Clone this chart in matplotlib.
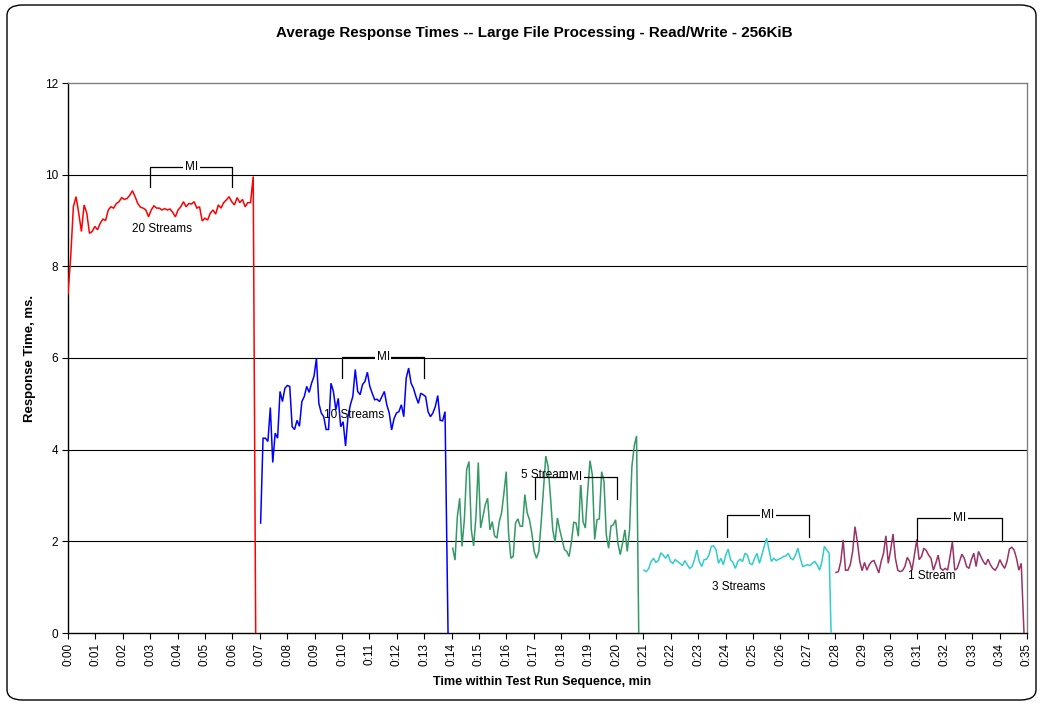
import numpy as np
import matplotlib
matplotlib.use("Agg")
import matplotlib.pyplot as plt
from matplotlib.patches import FancyBboxPatch

plt.rcParams['font.family'] = ['Liberation Sans', 'DejaVu Sans']

# ---------------- data ----------------
title = "Average Response Times -- Large File Processing - Read/Write - 256KiB"
xlabel = "Time within Test Run Sequence, min"
ylabel = "Response Time, ms."
xtick_labels = ["0:%02d" % m for m in range(36)]
yticks = [0, 2, 4, 6, 8, 10, 12]

red_start, red_end, red_drop = 0.0, 6.76, 6.85
red_vals = [7.4, 8.2, 9.30, 9.52, 9.16, 8.76, 9.34, 9.16, 8.72, 8.76, 8.87, 8.80, 8.94,
            9.03, 9.00, 9.23, 9.30, 9.27, 9.37, 9.41, 9.50, 9.46, 9.48, 9.55, 9.65, 9.52,
            9.37, 9.29, 9.27, 9.23, 9.08, 9.23, 9.32, 9.27, 9.27, 9.23, 9.26, 9.23, 9.25,
            9.18, 9.08, 9.23, 9.30, 9.41, 9.30, 9.37, 9.36, 9.41, 9.27, 9.30, 8.99, 9.05,
            9.01, 9.16, 9.23, 9.14, 9.34, 9.27, 9.39, 9.45, 9.52, 9.41, 9.34, 9.50, 9.39,
            9.46, 9.30, 9.39, 9.39, 9.96]

blue_start, blue_end, blue_drop = 7.03, 13.76, 13.87
blue_vals = [2.4, 4.25, 4.25, 4.18, 4.92, 3.72, 4.36, 4.25, 5.27, 5.05, 5.34, 5.40, 5.38,
             4.50, 4.44, 4.64, 4.51, 5.05, 5.16, 5.38, 5.25, 5.45, 5.60, 5.99, 5.01, 4.80,
             4.72, 4.44, 4.44, 5.45, 5.27, 4.87, 5.12, 4.50, 4.61, 4.08, 4.72, 4.98, 5.16,
             5.75, 5.27, 5.20, 5.42, 5.49, 5.69, 5.38, 5.23, 5.09, 5.10, 5.05, 5.16, 5.27,
             4.98, 4.80, 4.43, 4.68, 4.80, 4.83, 4.98, 4.72, 5.56, 5.78, 5.45, 5.34, 5.16,
             5.01, 5.23, 5.20, 5.16, 4.83, 4.72, 4.80, 4.94, 5.18, 4.64, 4.63, 4.83]

green_start, green_end, green_drop = 14.04, 20.75, 20.83
green_vals = [1.85, 1.59, 2.54, 2.94, 1.89, 2.47, 3.57, 3.74, 2.25, 1.90, 2.54, 3.72, 2.29,
              2.54, 2.80, 2.94, 2.25, 2.43, 2.12, 2.07, 2.43, 2.62, 3.05, 3.52, 2.18, 1.63,
              1.67, 2.40, 2.49, 2.33, 2.33, 3.02, 2.62, 2.47, 2.18, 1.78, 1.63, 1.78, 2.40,
              3.13, 3.86, 3.63, 2.98, 2.25, 1.98, 2.51, 2.25, 2.04, 1.82, 1.78, 1.67, 1.98,
              2.42, 2.40, 2.11, 3.31, 2.43, 2.29, 3.09, 3.76, 3.45, 2.04, 2.47, 2.49, 3.52,
              3.31, 2.14, 1.85, 2.33, 2.36, 2.47, 1.96, 1.71, 1.96, 2.25, 1.78, 2.25, 3.63,
              4.08, 4.30]

cyan_start, cyan_end, cyan_drop = 21.02, 27.78, 27.85
cyan_vals = [1.37, 1.34, 1.41, 1.56, 1.63, 1.54, 1.58, 1.75, 1.70, 1.63, 1.72, 1.56, 1.52,
             1.60, 1.56, 1.52, 1.47, 1.58, 1.49, 1.41, 1.45, 1.60, 1.81, 1.56, 1.45, 1.60,
             1.61, 1.70, 1.89, 1.90, 1.81, 1.52, 1.63, 1.49, 1.70, 1.83, 1.60, 1.54, 1.41,
             1.56, 1.61, 1.56, 1.74, 1.70, 1.52, 1.49, 1.63, 1.74, 1.52, 1.70, 1.89, 2.07,
             1.81, 1.56, 1.63, 1.58, 1.61, 1.63, 1.67, 1.68, 1.74, 1.63, 1.60, 1.70, 1.85,
             1.63, 1.45, 1.47, 1.49, 1.47, 1.52, 1.56, 1.49, 1.37, 1.56, 1.89, 1.81, 1.74]

purple_start, purple_end, purple_drop = 28.03, 34.79, 34.89
purple_vals = [1.32, 1.34, 1.56, 2.03, 1.37, 1.37, 1.49, 1.78, 2.32, 1.99, 1.56, 1.36, 1.54,
               1.37, 1.49, 1.56, 1.58, 1.45, 1.31, 1.56, 1.74, 2.12, 1.52, 1.81, 2.16, 1.63,
               1.37, 1.34, 1.36, 1.45, 1.65, 1.56, 1.37, 1.70, 2.04, 1.60, 1.67, 1.85, 1.80,
               1.70, 1.63, 1.37, 1.52, 1.70, 1.41, 1.37, 1.41, 1.37, 1.67, 1.99, 1.37, 1.41,
               1.56, 1.72, 1.63, 1.45, 1.41, 1.60, 1.74, 1.45, 1.78, 1.67, 1.56, 1.49, 1.61,
               1.49, 1.41, 1.37, 1.45, 1.60, 1.49, 1.41, 1.56, 1.83, 1.87, 1.81, 1.63, 1.37,
               1.52]

# series: (start, end, drop time, values, colour, label, label position)
series = [
    (red_start, red_end, red_drop, red_vals, "#FF0000", "20 Streams", (3.42, 8.81)),
    (blue_start, blue_end, blue_drop, blue_vals, "#0000FF", "10 Streams", (10.44, 4.76)),
    (green_start, green_end, green_drop, green_vals, "#339966", "5 Streams", (17.5, 3.45)),
    (cyan_start, cyan_end, cyan_drop, cyan_vals, "#33CCCC", "3 Streams", (24.46, 1.0)),
    (purple_start, purple_end, purple_drop, purple_vals, "#993366", "1 Stream", (31.52, 1.24)),
]

# MI brackets: (x0, x1, top, bottom)
mi_brackets = [
    (3.0, 6.0, 10.17, 9.73),
    (10.0, 13.0, 6.02, 5.56),
    (17.04, 20.03, 3.40, 2.92),
    (24.04, 27.05, 2.57, 2.09),
    (31.0, 34.08, 2.50, 2.01),
]

# ---------------- figure ----------------
W, H = 1041, 704
fig = plt.figure(figsize=(W / 100, H / 100), dpi=100)
fig.patch.set_facecolor("white")

frame = FancyBboxPatch((7 / W, 4 / H), (1036 - 7) / W, (699 - 4) / H,
                       boxstyle="round,pad=0,rounding_size=0.015",
                       transform=fig.transFigure, facecolor="none",
                       edgecolor="black", linewidth=1.0, zorder=-5)
fig.patches.append(frame)

ax = fig.add_axes([68 / W, (H - 633) / H, (1027 - 68) / W, (633 - 83) / H])
ax.set_facecolor("white")
ax.set_xlim(0, 35)
ax.set_ylim(0, 12)

for y in yticks[1:-1]:
    ax.axhline(y, color="black", lw=0.8, zorder=1)

for start, end, drop, vals, col, lab, (lx, ly) in series:
    t = np.append(np.linspace(start, end, len(vals)), drop)
    v = np.append(vals, 0.0)
    ax.plot(t, v, color=col, lw=1.1, zorder=3, solid_joinstyle="miter")
    ax.text(lx, ly, lab, ha="center", va="center", fontsize=8.5, color="black", zorder=4)

for x0, x1, top, bot in mi_brackets:
    ax.plot([x0, x0, x1, x1], [bot, top, top, bot], color="black", lw=0.9, zorder=5)
    ax.text((x0 + x1) / 2, top, "MI", ha="center", va="center", fontsize=8.5,
            color="black", zorder=6,
            bbox=dict(boxstyle="square,pad=0.15", fc="white", ec="none"))

ax.set_xticks(range(36))
ax.set_xticklabels(xtick_labels, rotation=90, fontsize=8.5)
ax.set_yticks(yticks)
ax.set_yticklabels([str(v) for v in yticks], fontsize=8.5)
ax.tick_params(axis="both", direction="out", length=4, width=0.8, color="black", pad=3)

for s in ["left", "bottom"]:
    ax.spines[s].set_color("black")
    ax.spines[s].set_linewidth(1.0)
for s in ["top", "right"]:
    ax.spines[s].set_color("#808080")
    ax.spines[s].set_linewidth(1.0)

fig.text(534 / W, 1 - 33 / H, title, ha="center", va="center", fontsize=10.9, fontweight="bold")
fig.text(542 / W, 1 - 682 / H, xlabel, ha="center", va="center", fontsize=9.1, fontweight="bold")
fig.text(30 / W, 1 - 358 / H, ylabel, ha="center", va="center", rotation=90,
         fontsize=9.5, fontweight="bold")

fig.savefig("out.png", dpi=100, facecolor="white")
